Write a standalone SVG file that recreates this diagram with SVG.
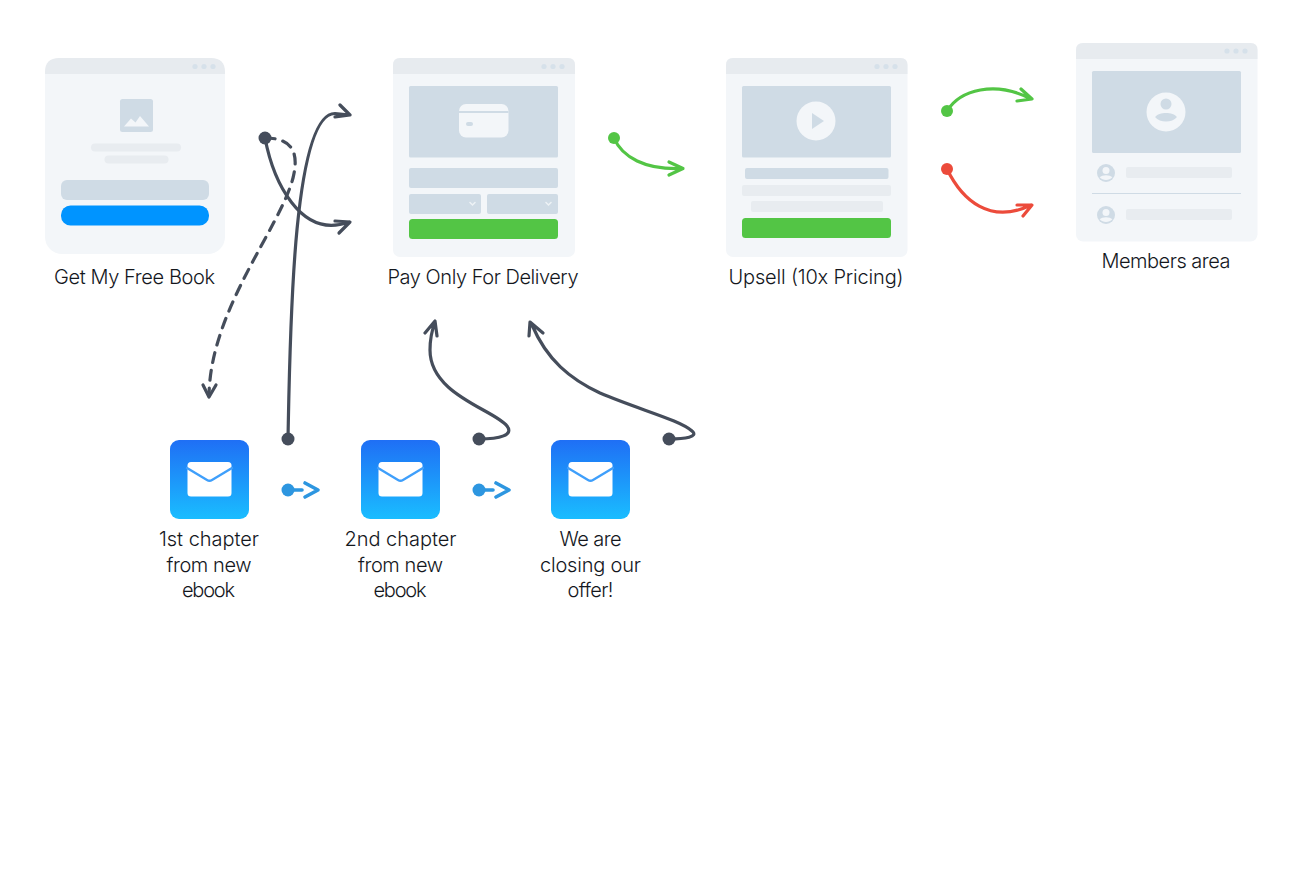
<svg xmlns="http://www.w3.org/2000/svg" width="1300" height="888" viewBox="0 0 1300 888">
<style>
text{font-family:"Inter","Liberation Sans",sans-serif;font-weight:300;font-size:20px;fill:#14171d;text-anchor:middle}
.card{fill:#f3f6f9}.head{fill:#e7ebef}.dot{fill:#d6e1ea}.ph{fill:#cfdbe5}.line{fill:#e8ecf0}.w{fill:#f3f6f9}.g{fill:#53c545}
.c{fill:none;stroke-width:3.200;stroke-linecap:round;stroke-linejoin:round}
.dark{stroke:#454d5b}.green{stroke:#53c545}.red{stroke:#ec4b3b}.blue{stroke:#2d96e0;stroke-width:3.600}
.fd{fill:#454d5b}.fg{fill:#53c545}.fr{fill:#ec4b3b}.fb{fill:#2d96e0}
.mail{fill:url(#mg)}.env{fill:#fff}.fold{fill:none;stroke:#3f9ffb;stroke-width:2.400;stroke-linecap:round;stroke-linejoin:round}
</style>
<defs>
<linearGradient id="mg" x1="0" y1="0" x2="0" y2="1"><stop offset="0" stop-color="#1f6ff5"/><stop offset="1" stop-color="#1abdff"/></linearGradient>
<g id="env"><rect class="env" x="17.500" y="22" width="44" height="34.500" rx="3.500"/><path class="fold" d="M17,28 L37,40 Q39.500,41.500 42,40 L62,28"/></g>
<g id="av"><circle class="ph" r="9"/><circle class="w" cy="-2.600" r="3.500"/><path class="w" d="M-6.300,4.300 C-4,1.600 4,1.600 6.300,4.300 C3,7.800 -3,7.800 -6.300,4.300Z"/></g>
</defs>

<g id="node-free-book">
<rect class="card" x="45" y="58" width="180" height="196" rx="17"/>
<path class="head" d="M45,74V72Q45,58 59,58H211Q225,58 225,72V74Z"/>
<circle class="dot" cx="195" cy="66.500" r="2.600"/><circle class="dot" cx="204" cy="66.500" r="2.600"/><circle class="dot" cx="213" cy="66.500" r="2.600"/>
<rect class="ph" x="120" y="99" width="33" height="33" rx="2.500"/>
<path class="w" d="M124,126.500 L131,118.500 L135.500,122.500 L140,116 L149,126.500Z"/>
<rect class="line" x="91" y="143.500" width="90" height="8" rx="4"/>
<rect class="line" x="104.500" y="155.500" width="64" height="8" rx="4"/>
<rect class="ph" x="61" y="180" width="148" height="20" rx="6"/>
<rect x="61" y="205.500" width="148" height="20" rx="9.500" fill="#0094ff"/>
<text x="134.500" y="284" textLength="161">Get My Free Book</text>
</g>

<g id="node-delivery">
<rect class="card" x="393" y="58" width="182" height="199" rx="7"/>
<path class="head" d="M393,74V65Q393,58 400,58H568Q575,58 575,65V74Z"/>
<circle class="dot" cx="544" cy="66.500" r="2.600"/><circle class="dot" cx="553" cy="66.500" r="2.600"/><circle class="dot" cx="562" cy="66.500" r="2.600"/>
<rect class="ph" x="409" y="86" width="149" height="71.500" rx="1.500"/>
<rect class="w" x="459" y="104" width="49.500" height="33.500" rx="7"/>
<rect class="ph" x="459" y="111" width="49.500" height="2"/>
<rect class="ph" x="466" y="122" width="7" height="4" rx="2"/>
<rect class="ph" x="409" y="168" width="149" height="20" rx="2"/>
<rect class="ph" x="409" y="194" width="72" height="20" rx="2"/>
<rect class="ph" x="487" y="194" width="71" height="20" rx="2"/>
<path d="M470,202.500l2.500,2.500 2.500,-2.500M546,202.500l2.500,2.500 2.500,-2.500" fill="none" stroke="#eef2f5" stroke-width="1.500" stroke-linecap="round"/>
<rect class="g" x="409" y="219" width="149" height="20" rx="3.500"/>
<text x="483" y="284" textLength="191">Pay Only For Delivery</text>
</g>

<g id="node-upsell">
<rect class="card" x="726" y="58" width="181.500" height="199" rx="7"/>
<path class="head" d="M726,74V65Q726,58 733,58H900.500Q907.500,58 907.500,65V74Z"/>
<circle class="dot" cx="877" cy="66.500" r="2.600"/><circle class="dot" cx="886" cy="66.500" r="2.600"/><circle class="dot" cx="895" cy="66.500" r="2.600"/>
<rect class="ph" x="742" y="86" width="149" height="71.500" rx="1.500"/>
<circle class="w" cx="816" cy="121" r="19.500"/>
<path class="ph" d="M812,113 L824,121 L812,129Z"/>
<rect class="ph" x="745" y="168" width="143.500" height="11" rx="2"/>
<rect class="line" x="742" y="185" width="149" height="11" rx="2"/>
<rect class="line" x="751" y="201" width="132" height="11" rx="2"/>
<rect class="g" x="742" y="218" width="149" height="20" rx="3.500"/>
<text x="816" y="284" textLength="175">Upsell (10x Pricing)</text>
</g>

<g id="node-members">
<rect class="card" x="1076" y="43" width="181.500" height="198.500" rx="7"/>
<path class="head" d="M1076,59V50Q1076,43 1083,43H1250.500Q1257.500,43 1257.500,50V59Z"/>
<circle class="dot" cx="1227" cy="51" r="2.600"/><circle class="dot" cx="1236" cy="51" r="2.600"/><circle class="dot" cx="1245" cy="51" r="2.600"/>
<rect class="ph" x="1092" y="71" width="149" height="82" rx="1.500"/>
<circle class="w" cx="1166" cy="112" r="19.500"/>
<circle class="ph" cx="1166" cy="104" r="5.500"/>
<path class="ph" d="M1155,117 C1159,111.500 1173,111.500 1177,117 C1172,123 1160,123 1155,117Z"/>
<use href="#av" x="1106" y="173"/>
<rect class="line" x="1126" y="167" width="106" height="11" rx="2"/>
<rect class="ph" x="1092" y="193" width="149" height="1"/>
<use href="#av" x="1106" y="215"/>
<rect class="line" x="1126" y="209" width="106" height="11" rx="2"/>
<text x="1166" y="268" textLength="129">Members area</text>
</g>

<g id="node-email-1">
<rect class="mail" x="170" y="440" width="79" height="79" rx="9"/>
<use href="#env" x="170" y="440"/>
<text x="209" y="546" textLength="100">1st chapter</text>
<text x="209" y="572" textLength="85">from new</text>
<text x="208.500" y="597" textLength="53">ebook</text>
</g>
<g id="node-email-2">
<rect class="mail" x="361" y="440" width="79" height="79" rx="9"/>
<use href="#env" x="361" y="440"/>
<text x="400.500" y="546" textLength="112">2nd chapter</text>
<text x="400.500" y="572" textLength="85">from new</text>
<text x="400" y="597" textLength="53">ebook</text>
</g>
<g id="node-email-3">
<rect class="mail" x="551" y="440" width="79" height="79" rx="9"/>
<use href="#env" x="551" y="440"/>
<text x="590.500" y="546" textLength="62">We are</text>
<text x="590.500" y="572" textLength="101">closing our</text>
<text x="590.500" y="597" textLength="46">offer!</text>
</g>

<g id="connectors">
<path class="c dark" d="M265,138 C273,180 300,240 349,222 M335,221 L350,222 L339,233"/>
<circle class="fd" cx="265" cy="138" r="6.500"/>
<path class="c dark" d="M288,439 C290,340 292,113 335,113.500 L350,115 M340,105 L350,115 L335,117"/>
<circle class="fd" cx="288" cy="439" r="6.500"/>
<path class="c dark" stroke-dasharray="10 8" d="M265,138 C290,138 300,150 293,178 C280,228 210,310 209,396"/>
<path class="c dark" d="M203,385 L209,397 L216,385"/>
<path class="c green" d="M614,138 C622,157 645,170 682,168.500 M669,162 L683,168.500 L669,175"/>
<circle class="fg" cx="614" cy="138" r="6"/>
<path class="c green" d="M947,111 C960,90 995,80 1031,99 M1021,89 L1032,99 L1017,101"/>
<circle class="fg" cx="947" cy="111" r="6"/>
<path class="c red" d="M947,169 C962,200 990,225 1031,205 M1017,205 L1032,205 L1023,216"/>
<circle class="fr" cx="947" cy="169" r="6"/>
<path class="c blue" d="M288,490 H302 M305,483 L318,490 L305,497"/>
<circle class="fb" cx="288" cy="490" r="6.500"/>
<path class="c blue" d="M479,490 H493 M496,483 L509,490 L496,497"/>
<circle class="fb" cx="479" cy="490" r="6.500"/>
<path class="c dark" d="M479,439 C500,439 514,435 507,426 C495,410 430,395 430,350 C430,340 432,330 435,322 M425,333 L435,321 L437,336"/>
<circle class="fd" cx="479" cy="439" r="6.500"/>
<path class="c dark" d="M669,439 C685,439 699,437 692,431 C680,420 640,410 600,393 C570,379 547,360 532,325 M529,336 L530,322 L543,333"/>
<circle class="fd" cx="669" cy="439" r="6.500"/>
</g>
</svg>
